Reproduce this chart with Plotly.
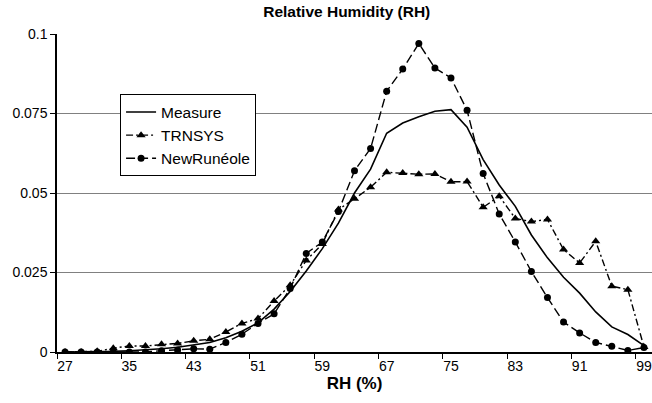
import plotly.graph_objects as go

# Relative humidity classes (%), one every 2 points
rh = list(range(27, 100, 2))

measure = [0, 0, 0.0001, 0.0002, 0.0004, 0.0006, 0.001, 0.0015, 0.0022, 0.003,
           0.0045, 0.0065, 0.0092, 0.0135, 0.019, 0.0255, 0.0325, 0.0405, 0.05,
           0.0575, 0.0688, 0.072, 0.074, 0.0757, 0.0762, 0.0707, 0.0605, 0.0525,
           0.0458, 0.0368, 0.0296, 0.0235, 0.0185, 0.0126, 0.0079, 0.0055, 0.002]

trnsys = [0, 0, 0.0002, 0.0012, 0.0019, 0.0019, 0.0024, 0.0027, 0.0035, 0.004,
          0.0063, 0.009, 0.0105, 0.016, 0.021, 0.0288, 0.034, 0.0448, 0.0482,
          0.0518, 0.0565, 0.0563, 0.0559, 0.056, 0.0535, 0.0536, 0.0455, 0.049,
          0.042, 0.041, 0.0417, 0.0322, 0.028, 0.0348, 0.0207, 0.0196, 0.0016]

newruneole = [0, 0, 0, 0, 0, 0, 0.0004, 0.0006, 0.001, 0.0009, 0.003, 0.0056,
              0.009, 0.012, 0.020, 0.031, 0.0346, 0.0442, 0.057, 0.064, 0.082,
              0.089, 0.097, 0.0893, 0.0862, 0.076, 0.0561, 0.0434, 0.0346, 0.0253,
              0.0171, 0.0094, 0.006, 0.003, 0.0018, 0.0005, 0.0014]

x_ticks = [27, 35, 43, 51, 59, 67, 75, 83, 91, 99]
y_ticks = [0, 0.025, 0.05, 0.075, 0.1]
y_labels = ["0", "0.025", "0.05", "0.075", "0.1"]

FONT = "Liberation Sans, Arial, sans-serif"

fig = go.Figure()
fig.add_trace(go.Scatter(
    x=rh, y=measure, name="Measure", mode="lines",
    line=dict(color="black", width=1.6),
))
fig.add_trace(go.Scatter(
    x=rh, y=trnsys, name="TRNSYS", mode="lines+markers",
    line=dict(color="black", width=1.4, dash="7px,3px,2px,3px"),
    marker=dict(symbol="triangle-up", size=8, color="black"),
))
fig.add_trace(go.Scatter(
    x=rh, y=newruneole, name="NewRunéole", mode="lines+markers",
    line=dict(color="black", width=1.4, dash="9px,4px"),
    marker=dict(symbol="circle", size=7, color="black"),
))

fig.update_layout(
    width=652, height=403,
    margin=dict(l=57, r=0, t=34, b=51),
    paper_bgcolor="white", plot_bgcolor="white",
    font=dict(family=FONT, size=14, color="black"),
    title=dict(text="<b>Relative Humidity (RH)</b>", x=0.487, xref="paper",
               xanchor="center", y=0.972, yanchor="middle",
               font=dict(size=15.5)),
    showlegend=True,
    legend=dict(x=0.106, y=0.81, xanchor="left", yanchor="top",
                bgcolor="white", bordercolor="black", borderwidth=1,
                font=dict(size=15.5), itemwidth=30),
)

fig.update_xaxes(
    range=[26, 100], tickmode="array", tickvals=x_ticks,
    ticks="", showgrid=False, zeroline=False,
    showline=True, linecolor="black", linewidth=1.5,
    tickfont=dict(size=14),
    minor=dict(tickmode="linear", tick0=26, dtick=8, ticks="outside",
               ticklen=5, tickcolor="black", showgrid=False),
    title=dict(text="<b>RH (%)</b>", font=dict(size=17), standoff=4),
)
fig.update_yaxes(
    range=[0, 0.1], tickmode="array", tickvals=y_ticks, ticktext=y_labels,
    ticks="outside", ticklen=5, tickcolor="black",
    showgrid=True, gridcolor="#808080", gridwidth=1,
    zeroline=False, showline=True, linecolor="black", linewidth=1.5,
    tickfont=dict(size=14),
)

fig.write_html("out.html")
